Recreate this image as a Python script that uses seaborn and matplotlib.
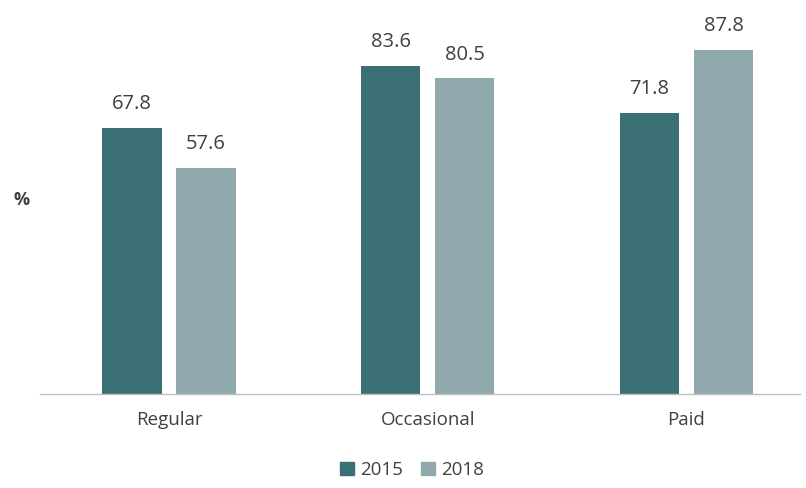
import pandas as pd
import matplotlib
matplotlib.use("Agg")
import matplotlib.pyplot as plt
import seaborn as sns

categories = ["Regular", "Occasional", "Paid"]
years = ["2015", "2018"]
values_2015 = [67.8, 83.6, 71.8]
values_2018 = [57.6, 80.5, 87.8]
colors = ["#3A7073", "#90A9AC"]

df = pd.DataFrame({
    "Type": categories * 2,
    "Year": [years[0]] * 3 + [years[1]] * 3,
    "Value": values_2015 + values_2018,
})

sns.set_style("white")
plt.rcParams["font.family"] = ["Open Sans", "DejaVu Sans"]

fig = plt.figure(figsize=(8.06, 4.88), dpi=100)
ax = fig.add_axes([40 / 806, (488 - 394) / 488, 760 / 806, 392 / 488])

sns.barplot(data=df, x="Type", y="Value", hue="Year", palette=colors,
            width=0.572, gap=0.2, ax=ax, legend=False, saturation=1,
            linewidth=0)

for bars in ax.containers:
    ax.bar_label(bars, fmt="%.1f", padding=10, fontsize=14.5, color="#404040")

ax.set_ylim(0, 100)
ax.set_xlim(-0.4985, 2.4387)
ax.set_xlabel("")
ax.set_ylabel("")
ax.set_yticks([])
ax.tick_params(axis="x", length=0, labelsize=13.5, labelcolor="#404040", pad=12)
for s in ["top", "right", "left"]:
    ax.spines[s].set_visible(False)
ax.spines["bottom"].set_color("#BFBFBF")
ax.spines["bottom"].set_linewidth(1)

fig.text(22 / 806, 1 - 200 / 488, "%", fontsize=13, fontweight="bold",
         color="#404040", ha="center", va="center")

handles = [plt.Rectangle((0, 0), 1, 1, color=c) for c in colors]
fig.legend(handles, years, loc="center", bbox_to_anchor=(412 / 806, 1 - 470 / 488),
           ncol=2, frameon=False, fontsize=13.5, handlelength=0.75, handleheight=0.75,
           handletextpad=0.3, columnspacing=1.0, labelcolor="#404040")

fig.savefig("out.png", dpi=100)
